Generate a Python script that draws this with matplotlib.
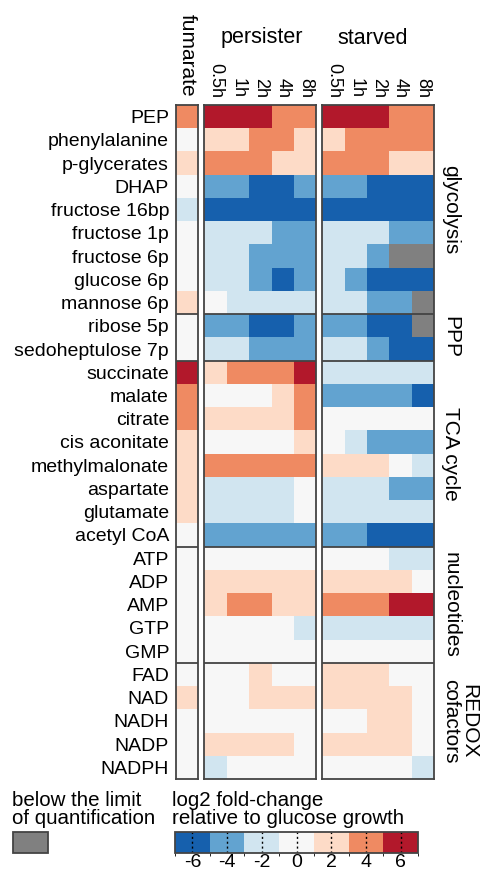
import numpy as np
import matplotlib
matplotlib.use("Agg")
import matplotlib.pyplot as plt
from matplotlib.colors import ListedColormap, BoundaryNorm
from matplotlib.patches import Rectangle
import matplotlib.cm as cm

plt.rcParams['font.family'] = ['Liberation Sans', 'DejaVu Sans']

nan = np.nan
metabolites = ["PEP", "phenylalanine", "p-glycerates", "DHAP", "fructose 16bp",
               "fructose 1p", "fructose 6p", "glucose 6p", "mannose 6p",
               "ribose 5p", "sedoheptulose 7p",
               "succinate", "malate", "citrate", "cis aconitate", "methylmalonate",
               "aspartate", "glutamate", "acetyl CoA",
               "ATP", "ADP", "AMP", "GTP", "GMP",
               "FAD", "NAD", "NADH", "NADP", "NADPH"]
groups = ["glycolysis", "PPP", "TCA cycle", "nucleotides", "REDOX\ncofactors"]
group_sizes = [9, 2, 8, 5, 5]
timepoints = ["0.5h", "1h", "2h", "4h", "8h"]

fumarate = [4, 0, 2, 0, -2, 0, 0, 0, 2,
            0, 0,
            6, 4, 4, 2, 2, 2, 2, 0,
            0, 0, 0, 0, 0,
            0, 2, 0, 0, 0]

persister = [
    [6, 6, 6, 4, 4],
    [2, 2, 4, 4, 2],
    [4, 4, 4, 2, 2],
    [-4, -4, -6, -6, -4],
    [-6, -6, -6, -6, -6],
    [-2, -2, -2, -4, -4],
    [-2, -2, -4, -4, -4],
    [-2, -2, -4, -6, -4],
    [0, -2, -2, -2, -2],
    [-4, -4, -6, -6, -4],
    [-2, -2, -4, -4, -4],
    [2, 4, 4, 4, 6],
    [0, 0, 0, 2, 4],
    [2, 2, 2, 2, 4],
    [0, 0, 0, 0, 2],
    [4, 4, 4, 4, 4],
    [-2, -2, -2, -2, 0],
    [-2, -2, -2, -2, 0],
    [-4, -4, -4, -4, -4],
    [0, 0, 0, 0, 0],
    [2, 2, 2, 2, 2],
    [2, 4, 4, 2, 2],
    [0, 0, 0, 0, -2],
    [0, 0, 0, 0, 0],
    [0, 0, 2, 0, 0],
    [0, 0, 2, 2, 2],
    [0, 0, 0, 0, 0],
    [2, 2, 2, 2, 0],
    [-2, 0, 0, 0, 0],
]

starved = [
    [6, 6, 6, 4, 4],
    [2, 4, 4, 4, 4],
    [4, 4, 4, 2, 2],
    [-4, -4, -6, -6, -6],
    [-6, -6, -6, -6, -6],
    [-2, -2, -2, -4, -4],
    [-2, -2, -4, nan, nan],
    [-2, -4, -6, -6, -6],
    [-2, -2, -4, -4, nan],
    [-4, -4, -6, -6, nan],
    [-2, -2, -4, -6, -6],
    [-2, -2, -2, -2, -2],
    [-4, -4, -4, -4, -6],
    [0, 0, 0, 0, 0],
    [0, -2, -4, -4, -4],
    [2, 2, 2, 0, -2],
    [-2, -2, -2, -4, -4],
    [-2, -2, -2, -2, -2],
    [-4, -4, -6, -6, -6],
    [0, 0, 0, -2, -2],
    [2, 2, 2, 2, 0],
    [4, 4, 4, 6, 6],
    [-2, -2, -2, -2, -2],
    [0, 0, 0, 0, 0],
    [2, 2, 2, 0, 0],
    [2, 2, 2, 2, 0],
    [0, 0, 2, 2, 0],
    [2, 2, 2, 2, 0],
    [0, 0, 0, 0, -2],
]

cbar_ticks = [-6, -4, -2, 0, 2, 4, 6]
bounds = [-7, -5, -3, -1, 1, 3, 5, 7]
colors = ["#1660ad", "#62a3d0", "#d1e5f0", "#f7f7f7", "#fddbc7", "#ef8a62", "#b2182b"]
grey = "#808080"
edge = "#444444"

cmap = ListedColormap(colors)
cmap.set_bad(grey)
norm = BoundaryNorm(bounds, cmap.N)

W, H = 481, 869
fig = plt.figure(figsize=(W / 100, H / 100), dpi=100)


def add_ax(x0, y0, x1, y1):
    return fig.add_axes([x0 / W, 1 - y1 / H, (x1 - x0) / W, (y1 - y0) / H])


def ftext(x, y, s, **kw):
    return fig.text(x / W, 1 - y / H, s, **kw)


top, bot = 105, 779
nrow = len(metabolites)
cuts = np.cumsum(group_sizes)[:-1]


def draw_panel(ax, data):
    arr = np.ma.masked_invalid(np.array(data, dtype=float))
    ncol = arr.shape[1]
    ax.pcolormesh(np.arange(ncol + 1), np.arange(nrow + 1), arr, cmap=cmap, norm=norm)
    ax.set_xlim(0, ncol)
    ax.set_ylim(nrow, 0)
    for c in cuts:
        ax.axhline(c, color=edge, lw=1.3)
    for s in ax.spines.values():
        s.set_color(edge)
        s.set_linewidth(1.3)
    ax.tick_params(length=0)
    return ncol


ax_f = add_ax(176, top, 198, bot)
draw_panel(ax_f, [[v] for v in fumarate])
ax_f.set_xticks([])
ax_f.set_yticks(np.arange(nrow) + 0.5)
ax_f.set_yticklabels(metabolites, fontsize=14)
ax_f.tick_params(axis='y', pad=5)

for (x0, x1), data in zip([(204.5, 316.5), (322.5, 434)], [persister, starved]):
    ax = add_ax(x0, top, x1, bot)
    ncol = draw_panel(ax, data)
    ax.set_yticks([])
    ax.set_xticks(np.arange(ncol) + 0.5)
    ax.xaxis.tick_top()
    ax.set_xticklabels(timepoints, rotation=-90, fontsize=13)
    ax.tick_params(axis='x', pad=5)

ftext(187, 97, "fumarate", rotation=-90, ha='center', va='bottom', fontsize=15)
ftext(262, 38, "persister", ha='center', va='center', fontsize=15.5)
ftext(373, 38, "starved", ha='center', va='center', fontsize=15.5)

row_h = (bot - top) / nrow
starts = np.concatenate([[0], np.cumsum(group_sizes)])
for g, a, b in zip(groups, starts[:-1], starts[1:]):
    yc = top + (a + b) / 2 * row_h
    xc = 451 if "\n" not in g else 460
    ftext(xc, yc, g, rotation=-90, ha='center', va='center', fontsize=15,
          multialignment='center', linespacing=0.95)

ftext(12, 791, "below the limit\nof quantification", ha='left', va='top',
      fontsize=14.8, linespacing=0.9)
ftext(172, 791, "log2 fold-change\nrelative to glucose growth", ha='left', va='top',
      fontsize=14.8, linespacing=0.9)

ax_g = add_ax(13, 832, 48, 853)
ax_g.add_patch(Rectangle((0, 0), 1, 1, facecolor=grey, edgecolor=edge, lw=1.3,
                         transform=ax_g.transAxes, clip_on=False))
ax_g.set_axis_off()

cax = add_ax(175, 832, 418, 853)
sm = cm.ScalarMappable(cmap=cmap, norm=norm)
cb = fig.colorbar(sm, cax=cax, orientation='horizontal', ticks=cbar_ticks)
cb.outline.set_edgecolor(edge)
cb.outline.set_linewidth(1.3)
for t in cbar_ticks:
    cax.axvline(t, color='black', ls=(0, (1.5, 2)), lw=1)
cax.tick_params(length=0, labelsize=14, pad=1)
cb.set_ticklabels([str(t) for t in cbar_ticks])

fig.savefig("out.png", dpi=100)
